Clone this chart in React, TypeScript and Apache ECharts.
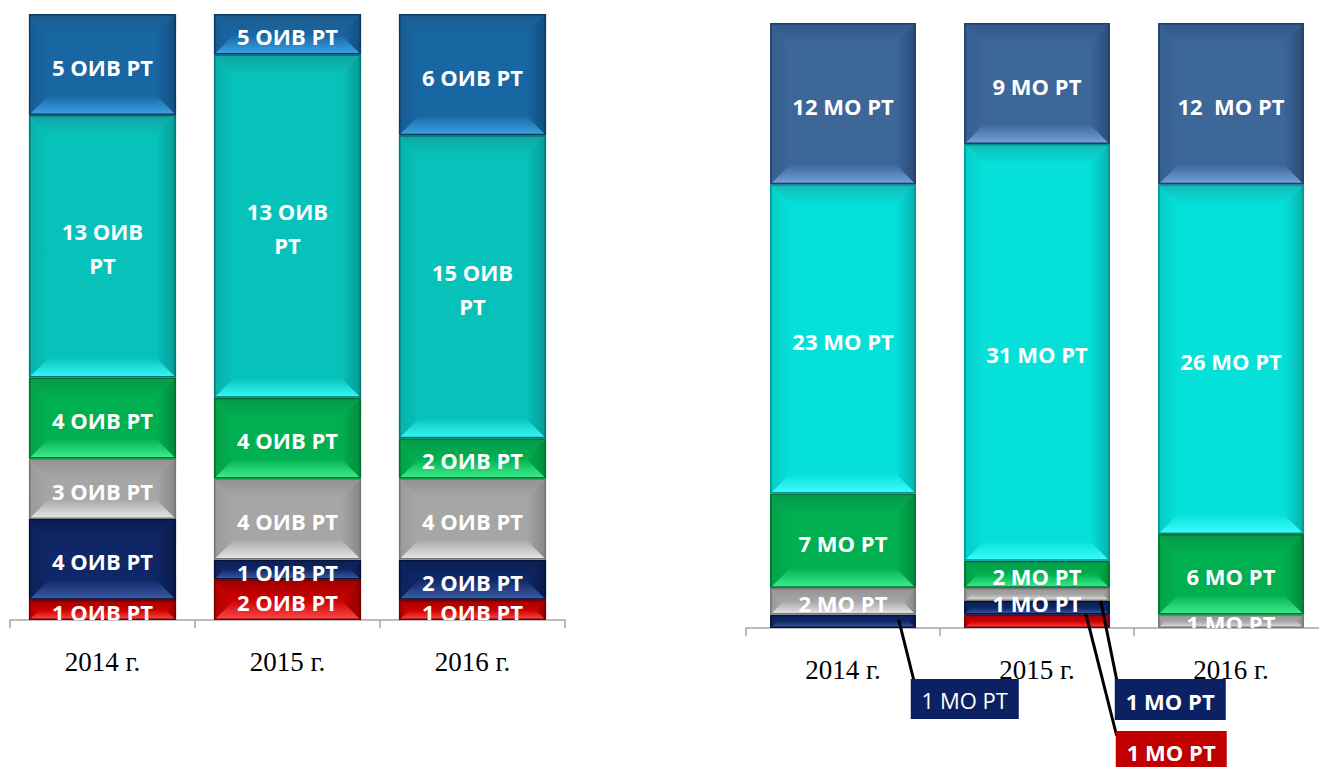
import React, { useEffect, useRef } from 'react';
import * as echarts from 'echarts';

// ---------- DATA ----------
const categories = ['2014 г.', '2015 г.', '2016 г.'];

// Left chart: ОИВ РТ, stacked bottom -> top
const oivRed = [1, 2, 1];
const oivNavy = [4, 1, 2];
const oivGray = [3, 4, 4];
const oivGreen = [4, 4, 2];
const oivTeal = [13, 17, 15];
const oivBlue = [5, 2, 6];

const oivRedLabels = ['1 ОИВ РТ', '2 ОИВ РТ', '1 ОИВ РТ'];
const oivNavyLabels = ['4 ОИВ РТ', '1 ОИВ РТ', '2 ОИВ РТ'];
const oivGrayLabels = ['3 ОИВ РТ', '4 ОИВ РТ', '4 ОИВ РТ'];
const oivGreenLabels = ['4 ОИВ РТ', '4 ОИВ РТ', '2 ОИВ РТ'];
const oivTealLabels = ['13 ОИВ\nРТ', '13 ОИВ\nРТ', '15 ОИВ\nРТ'];
const oivBlueLabels = ['5 ОИВ РТ', '5 ОИВ РТ', '6 ОИВ РТ'];

// Right chart: МО РТ, stacked bottom -> top
const moRed = [0, 1, 0];
const moNavy = [1, 1, 0];
const moGray = [2, 1, 1];
const moGreen = [7, 2, 6];
const moCyan = [23, 31, 26];
const moSlate = [12, 9, 12];

const moRedLabels = ['', '', ''];
const moNavyLabels = ['', '', ''];
const moGrayLabels = ['2 МО РТ', '1 МО РТ', '1 МО РТ'];
const moGreenLabels = ['7 МО РТ', '2 МО РТ', '6 МО РТ'];
const moCyanLabels = ['23 МО РТ', '31 МО РТ', '26 МО РТ'];
const moSlateLabels = ['12 МО РТ', '9 МО РТ', '12  МО РТ'];

// Callouts below the right chart
const moCallouts = [
  { category: 0, layer: 'navy', text: '1 МО РТ', bold: false },
  { category: 1, layer: 'navy', text: '1 МО РТ', bold: true },
  { category: 1, layer: 'red', text: '1 МО РТ', bold: true },
];

// ---------- STYLE / LAYOUT ----------
type Face = { base: string; top: string; bottom: string; left: string; right: string; edge: string };
const FACES: Record<string, Face> = {
  red: { base: '#cc0000', top: '#a00000', bottom: '#ff4a4a', left: '#b20000', right: '#8e0000', edge: '#7a0000' },
  navy: { base: '#0f2766', top: '#0a1d52', bottom: '#3f5eaa', left: '#0c2258', right: '#091a48', edge: '#061338' },
  gray: { base: '#a6a6a6', top: '#929292', bottom: '#e8e8e8', left: '#9a9a9a', right: '#878787', edge: '#767676' },
  green: { base: '#00b050', top: '#079848', bottom: '#40f08e', left: '#04a14a', right: '#008a3c', edge: '#006d30' },
  teal: { base: '#07c2bb', top: '#12a39f', bottom: '#38fafa', left: '#08b0ab', right: '#069995', edge: '#057572' },
  blue: { base: '#1866a2', top: '#1c5a8c', bottom: '#3ca4e6', left: '#185d94', right: '#124e80', edge: '#0c3b63' },
  cyan: { base: '#05e0d9', top: '#14bab4', bottom: '#40fdfd', left: '#06cdc7', right: '#04b2ad', edge: '#03908b' },
  slate: { base: '#3d6699', top: '#33578a', bottom: '#76a4df', left: '#365e8f', right: '#2b4b77', edge: '#213f66' },
};
const CALLOUT_FILL: Record<string, string> = { navy: '#0c2163', red: '#c00000' };
const BEVEL = 20;
const LEFT_RATIO = 0.795;
const RIGHT_RATIO = 0.75;
const LABEL_FONT = 'bold 22px "Open Sans"';
const moLabelNudge: Record<string, number[]> = { gray: [0, 7, 0] };
// callout geometry relative to bar right edge / segment centre / axis line
const calloutLayout = [
  { ax: -17, ay: -1.5, bx: -5, by: 51, w: 108, h: 40, lx: 3, ly: 1 },
  { ax: -9, ay: -7, bx: 5, by: 51, w: 111, h: 41, lx: 2, ly: 1 },
  { ax: -24, ay: -8, bx: 6, by: 103, w: 111, h: 40, lx: 1, ly: 5 },
];

function vGrad(c1: string, c2: string) {
  return new echarts.graphic.LinearGradient(0, 0, 0, 1, [
    { offset: 0, color: c1 },
    { offset: 1, color: c2 },
  ]);
}
function hGrad(c1: string, c2: string) {
  return new echarts.graphic.LinearGradient(0, 0, 1, 0, [
    { offset: 0, color: c1 },
    { offset: 1, color: c2 },
  ]);
}

function stackLayers(layers: number[][]) {
  const base = categories.map(() => 0);
  return layers.map((vals) =>
    vals.map((v, i) => {
      const s = base[i];
      base[i] += v;
      return [i, s, s + v];
    })
  );
}

function makeRender(face: Face, labels: string[], ratio: number, nudge?: number[]) {
  return (params: any, api: any) => {
    const cat = api.value(0);
    const s = api.value(1);
    const e = api.value(2);
    if (!(e > s)) return null;
    const pb = api.coord([cat, s]);
    const pt = api.coord([cat, e]);
    const bw = api.size([1, 0])[0] * ratio;
    const x0 = pb[0] - bw / 2;
    const x1 = x0 + bw;
    const y0 = pt[1];
    const y1 = pb[1];
    const h = y1 - y0;
    const b = Math.min(BEVEL, h / 2, bw / 2);
    const children: any[] = [
      { type: 'rect', shape: { x: x0, y: y0, width: bw, height: h }, style: { fill: face.base } },
      {
        type: 'polygon',
        shape: { points: [[x0, y0], [x1, y0], [x1 - b, y0 + b], [x0 + b, y0 + b]] },
        style: { fill: vGrad(face.top, face.base) },
      },
      {
        type: 'polygon',
        shape: { points: [[x0 + b, y1 - b], [x1 - b, y1 - b], [x1, y1], [x0, y1]] },
        style: { fill: vGrad(face.base, face.bottom) },
      },
      {
        type: 'polygon',
        shape: { points: [[x0, y0], [x0 + b, y0 + b], [x0 + b, y1 - b], [x0, y1]] },
        style: { fill: hGrad(face.left, face.base) },
      },
      {
        type: 'polygon',
        shape: { points: [[x1 - b, y0 + b], [x1, y0], [x1, y1], [x1 - b, y1 - b]] },
        style: { fill: hGrad(face.base, face.right) },
      },
      {
        type: 'rect',
        shape: { x: x0 + 0.75, y: y0 + 0.75, width: bw - 1.5, height: h - 1.5 },
        style: { fill: 'none', stroke: face.edge, lineWidth: 1.5 },
      },
    ];
    const label = labels[params.dataIndex];
    if (label) {
      const dy = nudge ? nudge[params.dataIndex] : 0;
      children.push({
        type: 'text',
        z2: 100,
        style: {
          text: label,
          x: (x0 + x1) / 2,
          y: (y0 + y1) / 2 + 2 + dy,
          fill: '#ffffff',
          font: LABEL_FONT,
          align: 'center',
          verticalAlign: 'middle',
          textAlign: 'center',
          textVerticalAlign: 'middle',
          lineHeight: 34,
        },
      });
    }
    return { type: 'group', children };
  };
}

export default function App() {
  const ref = useRef<HTMLDivElement>(null);

  useEffect(() => {
    if (!ref.current) return;
    const chart = echarts.init(ref.current, undefined, { renderer: 'svg' });

    const oivLayers = [oivRed, oivNavy, oivGray, oivGreen, oivTeal, oivBlue];
    const oivLabels = [oivRedLabels, oivNavyLabels, oivGrayLabels, oivGreenLabels, oivTealLabels, oivBlueLabels];
    const oivFaces = ['red', 'navy', 'gray', 'green', 'teal', 'blue'];

    const moLayers = [moRed, moNavy, moGray, moGreen, moCyan, moSlate];
    const moLabels = [moRedLabels, moNavyLabels, moGrayLabels, moGreenLabels, moCyanLabels, moSlateLabels];
    const moFaces = ['red', 'navy', 'gray', 'green', 'cyan', 'slate'];

    const oivStacked = stackLayers(oivLayers);
    const moStacked = stackLayers(moLayers);
    const oivMax = Math.max(...categories.map((_, i) => oivLayers.reduce((a, l) => a + l[i], 0)));
    const moMax = Math.max(...categories.map((_, i) => moLayers.reduce((a, l) => a + l[i], 0)));

    const series: any[] = [];
    oivStacked.forEach((data, k) => {
      series.push({
        type: 'custom',
        name: 'ОИВ ' + oivFaces[k],
        xAxisIndex: 0,
        yAxisIndex: 0,
        clip: true,
        data,
        encode: { x: 0, y: [1, 2] },
        renderItem: makeRender(FACES[oivFaces[k]], oivLabels[k], LEFT_RATIO),
      });
    });
    moStacked.forEach((data, k) => {
      series.push({
        type: 'custom',
        name: 'МО ' + moFaces[k],
        xAxisIndex: 1,
        yAxisIndex: 1,
        clip: true,
        data,
        encode: { x: 0, y: [1, 2] },
        renderItem: makeRender(FACES[moFaces[k]], moLabels[k], RIGHT_RATIO, moLabelNudge[moFaces[k]]),
      });
    });

    // callouts
    const calloutData = moCallouts.map((c) => {
      const k = moFaces.indexOf(c.layer);
      return moStacked[k][c.category];
    });
    series.push({
      type: 'custom',
      name: 'callouts',
      xAxisIndex: 1,
      yAxisIndex: 1,
      clip: false,
      z: 5,
      data: calloutData,
      encode: { x: 0, y: [1, 2] },
      renderItem: (params: any, api: any) => {
        const c = moCallouts[params.dataIndex];
        const L = calloutLayout[params.dataIndex];
        const cat = api.value(0);
        const s = api.value(1);
        const e = api.value(2);
        const pb = api.coord([cat, s]);
        const pt = api.coord([cat, e]);
        const bw = api.size([1, 0])[0] * RIGHT_RATIO;
        const xr = pb[0] + bw / 2;
        const yc = (pb[1] + pt[1]) / 2;
        const axisY = api.coord([cat, 0])[1];
        const ax = xr + L.ax;
        const ay = yc + L.ay;
        const bx = xr + L.bx;
        const by = axisY + L.by;
        return {
          type: 'group',
          children: [
            {
              type: 'line',
              shape: { x1: ax, y1: ay, x2: bx + L.lx, y2: by + L.ly },
              style: { stroke: '#000000', lineWidth: 3 },
            },
            {
              type: 'rect',
              shape: { x: bx, y: by, width: L.w, height: L.h },
              style: { fill: CALLOUT_FILL[c.layer] },
            },
            {
              type: 'text',
              z2: 10,
              style: {
                text: c.text,
                x: bx + L.w / 2,
                y: by + L.h / 2 + 1,
                fill: '#ffffff',
                font: (c.bold ? 'bold ' : '') + '22px "Open Sans"',
                align: 'center',
                verticalAlign: 'middle',
                textAlign: 'center',
                textVerticalAlign: 'middle',
              },
            },
          ],
        };
      },
    });

    const xAxisCommon = {
      type: 'category',
      data: categories,
      axisLine: { show: true, lineStyle: { color: '#a6a6a6', width: 1.5 } },
      axisTick: { show: true, length: 8, lineStyle: { color: '#a6a6a6', width: 1.5 } },
      axisLabel: { fontFamily: '"Liberation Serif", "Times New Roman", serif', fontSize: 27, color: '#000000', margin: 28 },
      splitLine: { show: false },
    };

    chart.setOption({
      animation: false,
      backgroundColor: '#ffffff',
      grid: [
        { left: 10, top: 14, width: 555, height: 606 },
        { left: 746, top: 23, width: 582, height: 605 },
      ],
      xAxis: [
        { ...xAxisCommon, gridIndex: 0 },
        { ...xAxisCommon, gridIndex: 1 },
      ],
      yAxis: [
        { type: 'value', gridIndex: 0, min: 0, max: oivMax, show: false },
        { type: 'value', gridIndex: 1, min: 0, max: moMax, show: false },
      ],
      series,
    });

    return () => chart.dispose();
  }, []);

  return (
    <div
      ref={ref}
      style={{ position: 'fixed', left: 0, top: 0, width: 1360, height: 767, background: '#ffffff' }}
    />
  );
}
